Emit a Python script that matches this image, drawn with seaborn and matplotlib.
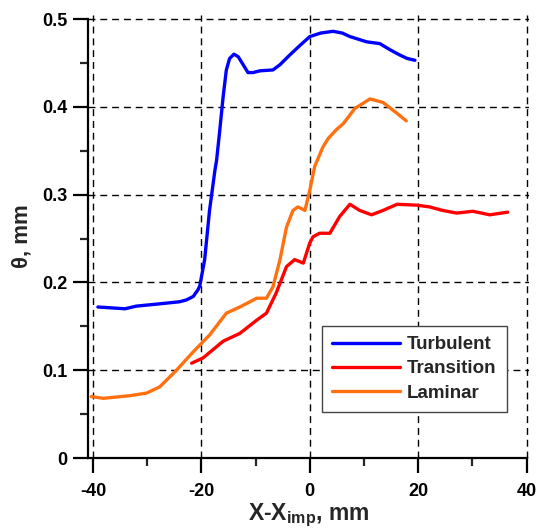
import pandas as pd
import numpy as np
import matplotlib
matplotlib.use('Agg')
import matplotlib.pyplot as plt
from matplotlib.ticker import MultipleLocator
import seaborn as sns

# Momentum thickness theta (mm) vs distance from impingement point (mm)
turb_x = [-39.1, -34.1, -32.0, -27.1, -24.0, -22.8, -21.5, -20.6, -20.3, -19.4, -18.5, -17.5,
          -17.2, -16.6, -16.0, -15.4, -14.8, -14.0, -13.2, -12.3, -11.4, -10.5, -9.2, -6.8,
          -5.5, -3.7, -1.8, 0.0, 2.0, 4.3, 6.0, 7.4, 10.5, 12.9, 14.8, 16.6, 18.0, 19.4]
turb_y = [0.172, 0.170, 0.173, 0.176, 0.178, 0.180, 0.184, 0.192, 0.196, 0.226, 0.282, 0.328,
          0.339, 0.374, 0.411, 0.442, 0.455, 0.460, 0.457, 0.448, 0.439, 0.439, 0.441, 0.442,
          0.448, 0.459, 0.470, 0.480, 0.484, 0.486, 0.484, 0.480, 0.474, 0.472, 0.465, 0.459,
          0.455, 0.453]

trans_x = [-21.8, -19.7, -16.0, -12.9, -9.8, -8.0, -6.2, -4.3, -2.8, -1.2, 0.0, 0.6, 1.8,
           3.7, 5.5, 7.4, 9.2, 11.4, 13.5, 16.1, 19.7, 22.1, 24.5, 27.1, 30.1, 33.2, 36.5]
trans_y = [0.108, 0.114, 0.133, 0.142, 0.157, 0.165, 0.188, 0.218, 0.226, 0.222, 0.245, 0.252,
           0.256, 0.256, 0.275, 0.289, 0.282, 0.277, 0.282, 0.289, 0.288, 0.286, 0.282, 0.279,
           0.281, 0.277, 0.280]

lam_x = [-40.3, -38.1, -33.2, -30.1, -27.7, -24.6, -21.5, -18.5, -15.4, -12.9, -9.8, -8.0,
         -6.8, -5.5, -4.3, -3.1, -2.2, -0.9, 0.0, 0.9, 2.4, 3.4, 4.9, 6.2, 8.3, 11.1, 13.5,
         16.0, 17.8]
lam_y = [0.070, 0.068, 0.071, 0.074, 0.081, 0.100, 0.121, 0.140, 0.165, 0.172, 0.182, 0.182,
         0.195, 0.226, 0.263, 0.282, 0.286, 0.282, 0.305, 0.332, 0.354, 0.364, 0.374, 0.381,
         0.398, 0.409, 0.405, 0.393, 0.384]

labels = ['Turbulent', 'Transition', 'Laminar']
colors = ['#0000ff', '#ff0000', '#ff7010']

frames = []
for lab, xx, yy in zip(labels, [turb_x, trans_x, lam_x], [turb_y, trans_y, lam_y]):
    frames.append(pd.DataFrame({'x': xx, 'theta': yy, 'regime': lab}))
df = pd.concat(frames, ignore_index=True)

sns.set_style('ticks')
plt.rcParams['font.family'] = ['Liberation Sans', 'DejaVu Sans']
plt.rcParams['font.weight'] = 'bold'
plt.rcParams['axes.unicode_minus'] = False
plt.rcParams['mathtext.fontset'] = 'custom'
plt.rcParams['mathtext.bf'] = 'Liberation Sans:bold'
plt.rcParams['mathtext.rm'] = 'Liberation Sans:bold'

fig = plt.figure(figsize=(5.37, 5.30), dpi=100)
ax = fig.add_axes([0.1639, 0.1358, 0.8218, 0.8366])

sns.lineplot(data=df, x='x', y='theta', hue='regime', hue_order=labels,
             palette=colors, sort=False, estimator=None, linewidth=2.4, ax=ax, zorder=3)
for ln in ax.get_lines():
    ln.set_solid_joinstyle('round')
    ln.set_solid_capstyle('round')

ax.set_xlim(-40.92, 40.5)
ax.set_ylim(0, 0.505)
ax.xaxis.set_major_locator(MultipleLocator(20))
ax.xaxis.set_minor_locator(MultipleLocator(10))
ax.yaxis.set_minor_locator(MultipleLocator(0.05))
ax.set_yticks([0, 0.1, 0.2, 0.3, 0.4, 0.5])
ax.set_yticklabels(['0', '0.1', '0.2', '0.3', '0.4', '0.5'])
ax.set_xticks([-40, -20, 0, 20, 40])
ax.set_xticklabels(['-40', '-20', '0', '20', '40'])

ax.grid(True, which='major', color='black', linestyle=(0, (5, 3.5)), linewidth=1.0)
ax.set_axisbelow(True)

for side in ['top', 'right']:
    ax.spines[side].set_visible(False)
for side in ['left', 'bottom']:
    ax.spines[side].set_linewidth(1.6)
    ax.spines[side].set_color('black')
ax.spines['bottom'].set_bounds(-40.92, 40)
ax.spines['left'].set_bounds(0, 0.5)

ax.tick_params(which='major', direction='out', length=11, width=1.6, labelsize=13,
               colors='black')
ax.tick_params(axis='x', which='major', pad=7)
ax.tick_params(axis='y', which='major', pad=4)
ax.tick_params(which='minor', direction='out', length=6, width=1.6)

ax.set_xlabel(r'X-X$_{\mathbf{imp}}$, mm', fontsize=16.5, fontweight='bold', labelpad=1)
ax.set_ylabel('θ, mm', fontsize=16, fontweight='bold', labelpad=7)

leg = ax.legend(loc='lower left', bbox_to_anchor=(0.530, 0.104), fontsize=13.5,
                frameon=True, fancybox=False, edgecolor='#444444', framealpha=1,
                handlelength=3.6, handletextpad=0.4, borderpad=0.55, labelspacing=0.38,
                borderaxespad=0)
leg.get_frame().set_linewidth(1.0)
for line in leg.get_lines():
    line.set_linewidth(2.4)
leg.set_zorder(5)

fig.savefig('out.png', dpi=100)
